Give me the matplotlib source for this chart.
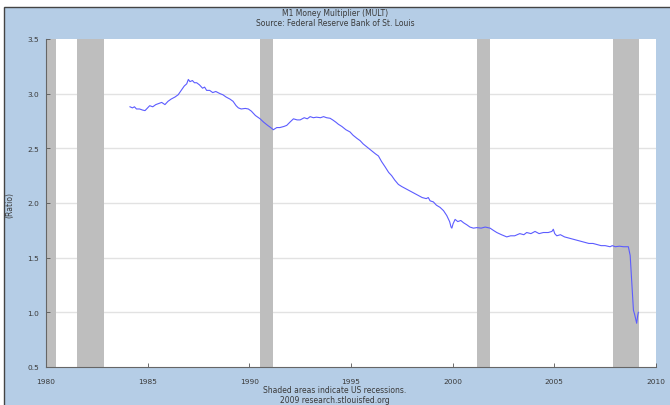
import matplotlib
matplotlib.use("Agg")
import matplotlib.pyplot as plt
from matplotlib.patches import Rectangle

# M1 money multiplier
years = [1984.13, 1984.25, 1984.35, 1984.45, 1984.6, 1984.75, 1984.87, 1985.0, 1985.1, 1985.25,
         1985.4, 1985.55, 1985.69, 1985.85, 1986.0, 1986.15, 1986.35, 1986.5, 1986.65, 1986.8,
         1986.92, 1987.0, 1987.08, 1987.2, 1987.3, 1987.41, 1987.55, 1987.7, 1987.8, 1987.9,
         1988.05, 1988.2, 1988.35, 1988.56, 1988.7, 1988.85, 1989.05, 1989.2, 1989.35, 1989.46,
         1989.6, 1989.8, 1989.95, 1990.1, 1990.3, 1990.53, 1990.7, 1990.9, 1991.05, 1991.18,
         1991.35, 1991.5, 1991.7, 1991.84, 1992.0, 1992.17, 1992.35, 1992.5, 1992.7, 1992.85,
         1992.99, 1993.15, 1993.3, 1993.5, 1993.65, 1993.8, 1993.97, 1994.1, 1994.25, 1994.38,
         1994.55, 1994.75, 1994.95, 1995.1, 1995.3, 1995.45, 1995.6, 1995.8, 1996.0, 1996.2,
         1996.35, 1996.5, 1996.68, 1996.85, 1997.0, 1997.15, 1997.33, 1997.5, 1997.7, 1997.9,
         1998.1, 1998.3, 1998.5, 1998.7, 1998.8, 1998.89, 1999.05, 1999.2, 1999.38, 1999.55,
         1999.71, 1999.85, 1999.92, 1999.96, 2000.02, 2000.12, 2000.25, 2000.4, 2000.53, 2000.7,
         2000.85, 2001.02, 2001.2, 2001.4, 2001.6, 2001.84, 2002.0, 2002.17, 2002.4, 2002.66,
         2002.85, 2003.05, 2003.3, 2003.5, 2003.64, 2003.85, 2004.05, 2004.25, 2004.46, 2004.7,
         2004.88, 2004.95, 2005.02, 2005.12, 2005.3, 2005.5, 2005.7, 2005.9, 2006.1, 2006.3,
         2006.5, 2006.7, 2006.9, 2007.09, 2007.3, 2007.5, 2007.74, 2007.85, 2008.0, 2008.2,
         2008.4, 2008.64, 2008.73, 2008.8, 2008.89, 2008.95, 2009.05, 2009.1, 2009.13]
mult = [2.88, 2.87, 2.88, 2.86, 2.86, 2.85, 2.845, 2.87, 2.89, 2.88,
        2.90, 2.91, 2.92, 2.90, 2.93, 2.95, 2.97, 2.99, 3.03, 3.07,
        3.09, 3.13, 3.11, 3.12, 3.10, 3.10, 3.08, 3.05, 3.06, 3.03,
        3.03, 3.01, 3.02, 3.00, 2.99, 2.97, 2.95, 2.93, 2.89, 2.87,
        2.86, 2.865, 2.86, 2.84, 2.80, 2.77, 2.74, 2.71, 2.69, 2.67,
        2.69, 2.69, 2.70, 2.71, 2.74, 2.77, 2.76, 2.76, 2.78, 2.77,
        2.79, 2.78, 2.785, 2.78, 2.79, 2.78, 2.775, 2.76, 2.74, 2.72,
        2.70, 2.67, 2.65, 2.62, 2.59, 2.57, 2.54, 2.51, 2.48, 2.45,
        2.43, 2.38, 2.33, 2.28, 2.25, 2.21, 2.17, 2.15, 2.13, 2.11,
        2.09, 2.07, 2.05, 2.04, 2.05, 2.02, 2.01, 1.98, 1.96, 1.93,
        1.885, 1.83, 1.78, 1.77, 1.81, 1.85, 1.83, 1.84, 1.82, 1.80,
        1.78, 1.77, 1.775, 1.77, 1.78, 1.77, 1.75, 1.73, 1.71, 1.69,
        1.70, 1.70, 1.72, 1.71, 1.73, 1.72, 1.74, 1.72, 1.73, 1.73,
        1.74, 1.76, 1.72, 1.70, 1.71, 1.69, 1.68, 1.67, 1.66, 1.65,
        1.64, 1.63, 1.63, 1.62, 1.61, 1.61, 1.60, 1.61, 1.60, 1.605,
        1.60, 1.60, 1.52, 1.30, 1.02, 0.98, 0.90, 0.97, 1.00]

# recession start / end
rec_start = [1980.0, 1981.5, 1990.5, 2001.2, 2007.9]
rec_end = [1980.5, 1982.83, 1991.17, 2001.85, 2009.17]

xticks = [1980, 1985, 1990, 1995, 2000, 2005, 2010]
yticks = [0.5, 1.0, 1.5, 2.0, 2.5, 3.0, 3.5]

blue_bg = "#b5cde6"
txt = "#3a3a3a"

fig = plt.figure(figsize=(6.7, 4.06), dpi=100, facecolor="white")
fig.patches.append(Rectangle((3.5 / 670, -0.01), 1.0, 1 - 7.5 / 406 + 0.01,
                             transform=fig.transFigure, facecolor=blue_bg,
                             edgecolor="#444444", linewidth=1.0, zorder=-5))

ax = fig.add_axes([46 / 670, 1 - 368 / 406, 610 / 670, 328 / 406])
ax.set_zorder(2)
ax.set_facecolor("white")

for s, e in zip(rec_start, rec_end):
    ax.axvspan(s, e, color="#bebebe", lw=0, zorder=1)

for y in yticks[1:-1]:
    ax.axhline(y, color="#e2e2e2", lw=1.0, zorder=0.5)

ax.plot(years, mult, color="#5c5cff", lw=0.8, zorder=3)

ax.set_xlim(1980, 2010)
ax.set_ylim(0.5, 3.5)
ax.set_xticks(xticks)
ax.set_yticks(yticks)
ax.set_yticklabels(["%.1f" % v for v in yticks])
ax.tick_params(direction="in", length=3, width=0.6, colors="#555555",
               labelcolor=txt, labelsize=5.3)
ax.tick_params(axis="x", pad=8)
ax.tick_params(axis="y", pad=5)

for sp in ["top", "right"]:
    ax.spines[sp].set_visible(False)
for sp in ["left", "bottom"]:
    ax.spines[sp].set_color("#666666")
    ax.spines[sp].set_linewidth(0.8)

fig.text(0.5, 1 - 14 / 406, "M1 Money Multiplier (MULT)", ha="center", va="center",
         fontsize=5.5, color=txt)
fig.text(0.5, 1 - 24 / 406, "Source: Federal Reserve Bank of St. Louis", ha="center",
         va="center", fontsize=5.5, color=txt)
fig.text(0.5, 1 - 391 / 406, "Shaded areas indicate US recessions.", ha="center",
         va="center", fontsize=5.5, color=txt)
fig.text(0.5, 1 - 401 / 406, "2009 research.stlouisfed.org", ha="center", va="center",
         fontsize=5.5, color=txt)
fig.text(10 / 670, 1 - 205 / 406, "(Ratio)", rotation=90, ha="center", va="center",
         fontsize=5.5, color=txt)

fig.savefig("out.png", dpi=100, facecolor=fig.get_facecolor())
